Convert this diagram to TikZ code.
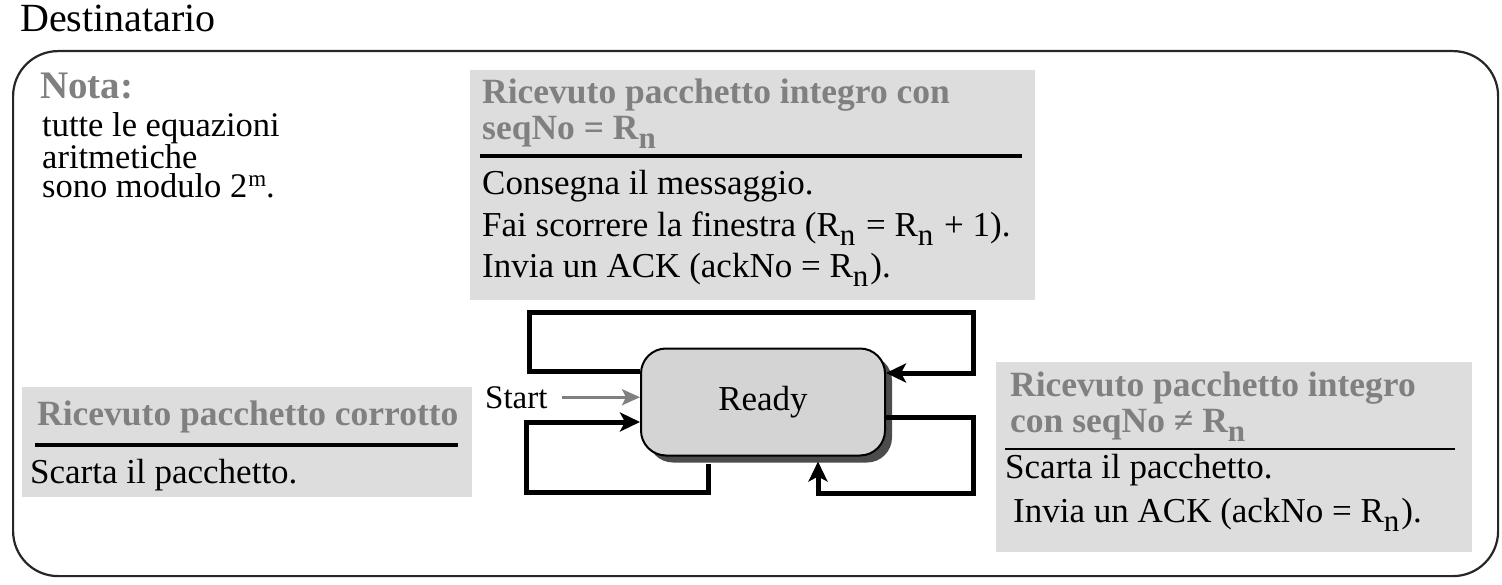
\documentclass[tikz,border=0pt]{standalone}
\usepackage{fontspec}
\setmainfont{Liberation Serif}
\usepackage{tikz}
\usetikzlibrary{positioning, calc, shadows, arrows.meta}
\definecolor{panelgray}{RGB}{221,221,221}
\definecolor{headgray}{RGB}{128,128,128}
\definecolor{stategray}{RGB}{212,212,212}
\tikzstyle{frame} = [rectangle, rounded corners=45pt, draw=black!85, line width=2.2pt, anchor=north west, inner sep=0pt]
\tikzstyle{panel} = [rectangle, fill=panelgray, anchor=north west, inner sep=0pt]
\tikzstyle{head} = [anchor=base west, inner sep=0pt, text=headgray, font=\fontsize{35.5}{41}\selectfont\bfseries]
\tikzstyle{body} = [anchor=base west, inner sep=0pt, font=\fontsize{35}{41}\selectfont]
\tikzstyle{nota} = [anchor=base west, inner sep=0pt, font=\fontsize{34.5}{29}\selectfont]
\tikzstyle{state} = [rectangle, rounded corners=25pt, minimum width=244pt, minimum height=107pt, fill=stategray, draw=black, line width=2pt, drop shadow={shadow xshift=7pt, shadow yshift=-7pt, fill=black!70, opacity=1}, font=\fontsize{35}{41}\selectfont]
\tikzstyle{sepline} = [line width=3.5pt]
\tikzstyle{loopline} = [line width=5pt, -{Stealth[length=20pt, width=19pt, inset=5pt]}]
\tikzstyle{startarrow} = [line width=3pt, draw=black!50, -{Stealth[length=18pt, width=16pt, inset=4pt]}, color=black!50]
\newcommand{\Rn}{R\raisebox{-9pt}{\fontsize{31}{31}\selectfont n}\kern2pt}
\newcommand{\modm}{\kern1pt\raisebox{11pt}{\fontsize{23}{23}\selectfont m}}

\begin{document}
\begin{tikzpicture}[x=1pt, y=-1pt]
		\useasboundingbox (0,0) rectangle (1502,585);
		\node (title) [body, font=\fontsize{40}{45}\selectfont] at (20,32) {Destinatario};
		\node (dest) [frame, minimum width=1485pt, minimum height=525pt] at (12,50) {};
		% nota
		\node (nota) [head, font=\fontsize{39}{45}\selectfont\bfseries] at (40,99) {Nota:};
		\node (nota1) [nota] at (42,137) {tutte le equazioni};
		\node (nota2) [nota] at (42,169) {aritmetiche};
		\node (nota3) [nota] at (42,198) {sono modulo 2\modm.};
		% pannelli delle azioni
		\node (pTop) [panel, minimum width=565pt, minimum height=230pt] at (470,70) {};
		\node (pLeft) [panel, minimum width=450pt, minimum height=110pt] at (22,387) {};
		\node (pRight) [panel, minimum width=476pt, minimum height=190pt] at (996,362) {};
		\node (hTop1) [head] at (482,104) {Ricevuto pacchetto integro con};
		\node (hTop2) [head] at (482,140) {seqNo = \Rn};
		\draw [sepline]($(pTop.north west)+(10,86)$) -- ($(pTop.north east)+(-13,86)$);
		\node (bTop1) [body] at (482,195) {Consegna il messaggio.};
		\node (bTop2) [body] at (482,237) {Fai scorrere la finestra (\Rn{} = \Rn{} + 1).};
		\node (bTop3) [body] at (482,278) {Invia un ACK (ackNo = \Rn).};
		\node (hLeft) [head] at (37,425) {Ricevuto pacchetto corrotto};
		\draw [sepline]($(pLeft.north west)+(13,58)$) -- ($(pLeft.north east)+(-14,58)$);
		\node (bLeft) [body] at (30,483) {Scarta il pacchetto.};
		\node (hRight1) [head] at (1010,396) {Ricevuto pacchetto integro};
		\node (hRight2) [head] at (1010,432) {con seqNo ≠ \Rn};
		\draw [line width=2pt]($(pRight.north west)+(9,87)$) -- ($(pRight.north east)+(-17,87)$);
		\node (bRight1) [body] at (1005,478) {Scarta il pacchetto.};
		\node (bRight2) [body] at (1013,522) {Invia un ACK (ackNo = \Rn).};
		% stato
		\node (ready) [state] at (763,402) {Ready};
		\node (start) [body, font=\fontsize{33}{40}\selectfont] at (485,408) {Start};
		\draw [startarrow]([xshift=14pt]start.east) -- (start.east -| ready.west);
		\draw [loopline]($(ready.west)+(0,-31)$) -| ($(ready.west)+(-111,-89)$) -| ($(ready.east)+(87,-29)$) -- ($(ready.east)+(0,-29)$);
		\draw [loopline]($(ready.south)+(-55,7)$) |- ($(ready.west)+(-114,90)$) |- ($(ready.west)+(0,20)$);
		\draw [loopline]($(ready.east)+(0,15)$) -| ($(ready.east)+(87,91)$) -| ($(ready.south)+(55,5)$);
	\end{tikzpicture}
\end{document}
